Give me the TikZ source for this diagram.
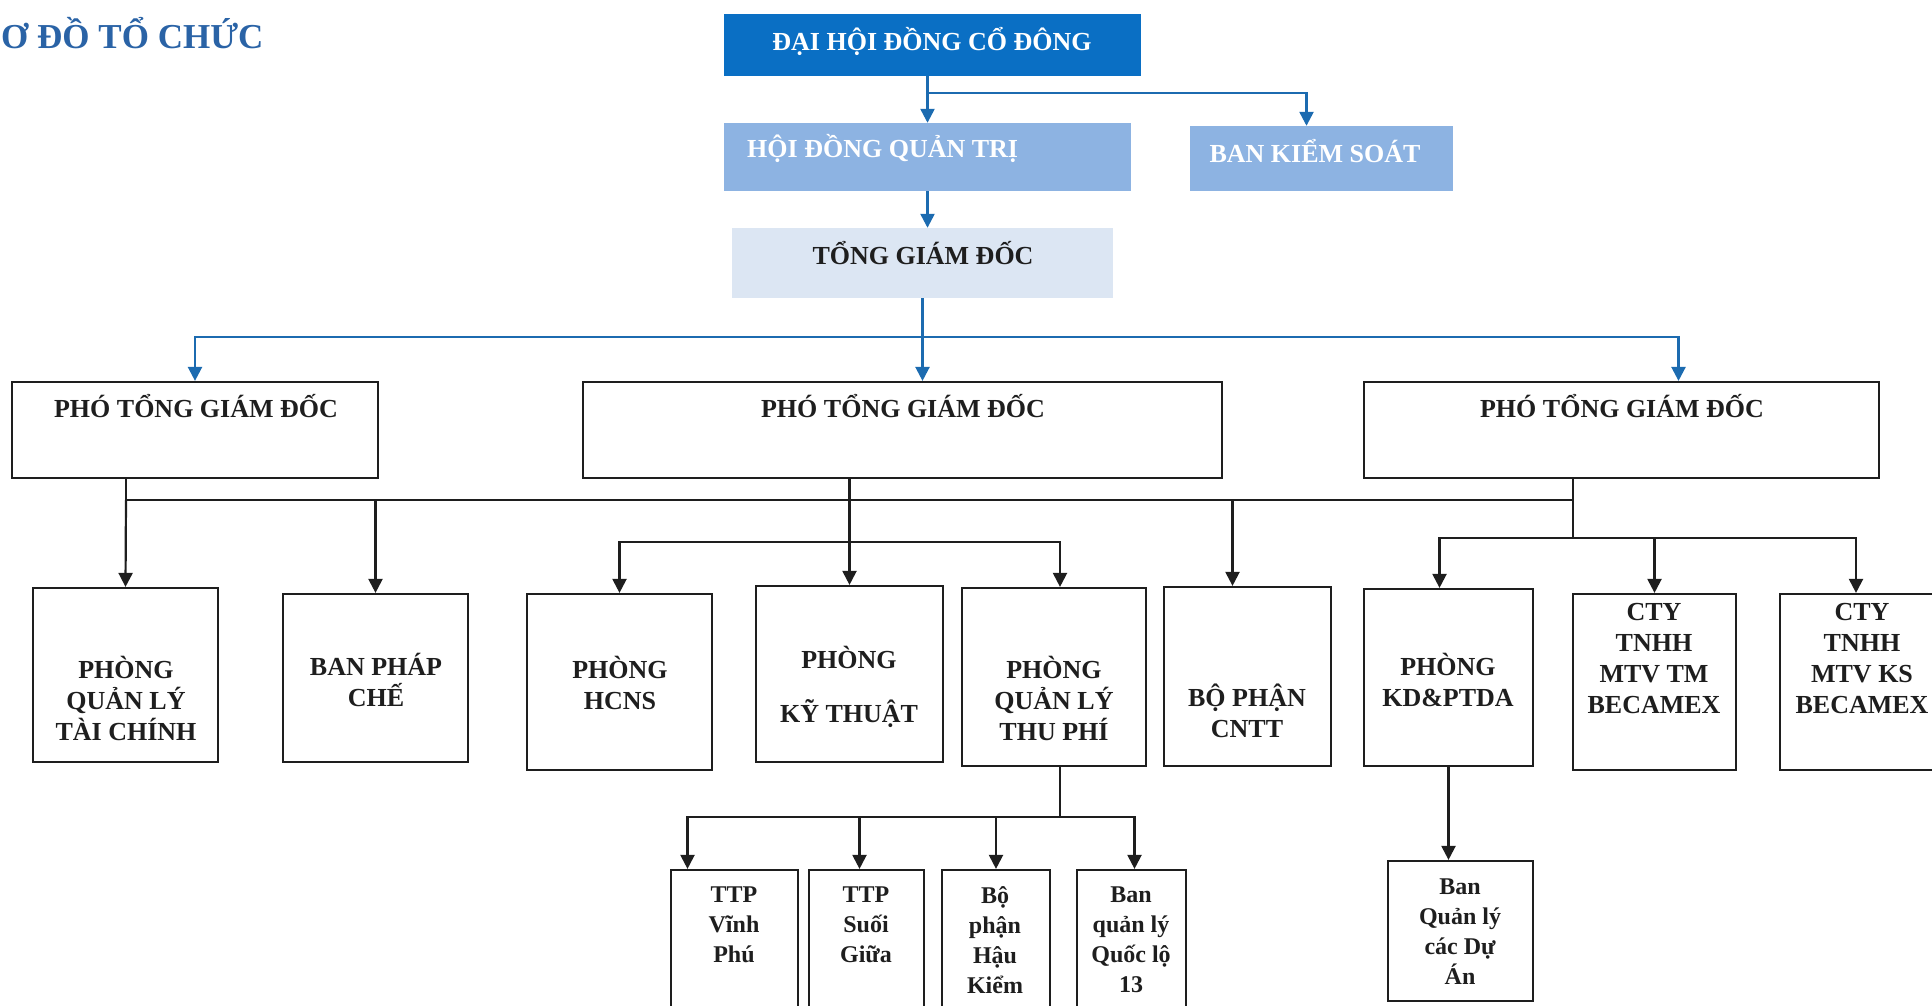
\documentclass[tikz,border=0pt]{standalone}
\usepackage{fontspec}
\setmainfont{Liberation Serif}
\usetikzlibrary{arrows.meta,calc}

\definecolor{dhblue}{RGB}{10,111,196}
\definecolor{hdblue}{RGB}{141,179,226}
\definecolor{tgblue}{RGB}{220,230,243}
\definecolor{lnblue}{RGB}{28,107,176}
\definecolor{ttblue}{RGB}{42,99,166}
\definecolor{ink}{RGB}{30,30,30}

\begin{document}
\begin{tikzpicture}[x=1pt, y=-1pt,
  orgbox/.style={draw=ink, line width=2.2pt, inner sep=0pt},
  topbox/.style={inner sep=0pt},
  lbl/.style={font=\bfseries\fontsize{26}{31}\selectfont, align=center, inner sep=0pt, text=ink},
  smlbl/.style={font=\bfseries\fontsize{24}{30}\selectfont, align=center, inner sep=0pt, text=ink},
  bline/.style={draw=lnblue, line width=2.4pt, -{Triangle[length=14pt,width=14pt]}},
  kline/.style={draw=ink, line width=2.2pt, -{Triangle[length=14pt,width=14pt]}},
  kplain/.style={draw=ink, line width=2.2pt}]

  \useasboundingbox (0,0) rectangle (1932,1006);

  % title
  \node[anchor=west, inner sep=0pt, text=ttblue, font=\bfseries\fontsize{35}{40}\selectfont] (title) at (1,33) {Ơ ĐỒ TỔ CHỨC};

  % top levels
  \node[topbox, fill=dhblue, minimum width=417, minimum height=62] (dhcd) at (932.5,45) {};
  \node[topbox, fill=hdblue, minimum width=407, minimum height=68] (hdqt) at (927.5,157) {};
  \node[topbox, fill=hdblue, minimum width=263, minimum height=65] (bks) at (1321.5,158.5) {};
  \node[topbox, fill=tgblue, minimum width=381, minimum height=70] (tgd) at (922.5,263) {};
  \node[lbl, text=white] (dhcd-t) at (932,41) {ĐẠI HỘI ĐỒNG CỔ ĐÔNG};
  \node[lbl, text=white, anchor=west] (hdqt-t) at (747,148) {HỘI ĐỒNG QUẢN TRỊ};
  \node[lbl, text=white] (bks-t) at (1315,151) {BAN KIỂM SOÁT};
  \node[lbl] (tgd-t) at (923,253) {TỔNG GIÁM ĐỐC};

  % deputies
  \node[orgbox, minimum width=366, minimum height=96] (ptgd1) at (195,430) {};
  \node[orgbox, minimum width=639, minimum height=96] (ptgd2) at (902.5,430) {};
  \node[orgbox, minimum width=515, minimum height=96] (ptgd3) at (1621.5,430) {};
  \node[lbl] (ptgd1-t) at (196,406) {PHÓ TỔNG GIÁM ĐỐC};
  \node[lbl] (ptgd2-t) at (903,406) {PHÓ TỔNG GIÁM ĐỐC};
  \node[lbl] (ptgd3-t) at (1622,406) {PHÓ TỔNG GIÁM ĐỐC};

  % departments
  \node[orgbox, minimum width=185, minimum height=174] (pqltc) at (125.5,675) {};
  \node[orgbox, minimum width=185, minimum height=168] (bpc) at (375.5,678) {};
  \node[orgbox, minimum width=185, minimum height=176] (hcns) at (619.5,682) {};
  \node[orgbox, minimum width=187, minimum height=176] (kt) at (849.5,674) {};
  \node[orgbox, minimum width=184, minimum height=178] (qltp) at (1054,677) {};
  \node[orgbox, minimum width=167, minimum height=179] (cntt) at (1247.5,676.5) {};
  \node[orgbox, minimum width=169, minimum height=177] (kd) at (1448.5,677.5) {};
  \node[orgbox, minimum width=163, minimum height=176] (tm) at (1654.5,682) {};
  \node[orgbox, minimum width=164, minimum height=176] (ks) at (1862,682) {};
  \node[lbl] (pqltc-t) at (126,698) {PHÒNG\\QUẢN LÝ\\TÀI CHÍNH};
  \node[lbl] (bpc-t) at (376,680) {BAN PHÁP\\CHẾ};
  \node[lbl] (hcns-t) at (620,683) {PHÒNG\\HCNS};
  \node[lbl] (kt-t) at (849,687) {PHÒNG\\[23pt]KỸ THUẬT};
  \node[lbl] (qltp-t) at (1054,698) {PHÒNG\\QUẢN LÝ\\THU PHÍ};
  \node[lbl] (cntt-t) at (1247,711) {BỘ PHẬN\\CNTT};
  \node[lbl] (kd-t) at (1448,680) {PHÒNG\\KD\&PTDA};
  \node[lbl] (tm-t) at (1654,659) {CTY\\TNHH\\MTV TM\\BECAMEX};
  \node[lbl] (ks-t) at (1862,659) {CTY\\TNHH\\MTV KS\\BECAMEX};

  % units
  \node[orgbox, minimum width=127, minimum height=150] (vp) at (734.5,945) {};
  \node[orgbox, minimum width=115, minimum height=150] (sg) at (866.5,945) {};
  \node[orgbox, minimum width=108, minimum height=150] (hk) at (996,945) {};
  \node[orgbox, minimum width=109, minimum height=150] (ql) at (1131.5,945) {};
  \node[orgbox, minimum width=145, minimum height=140] (bqlda) at (1460.5,931) {};
  \node[smlbl] (vp-t) at (734,925) {TTP\\Vĩnh\\Phú};
  \node[smlbl] (sg-t) at (866,925) {TTP\\Suối\\Giữa};
  \node[smlbl] (hk-t) at (995,940) {Bộ\\phận\\Hậu\\Kiểm};
  \node[smlbl] (ql-t) at (1131,940) {Ban\\quản lý\\Quốc lộ\\13};
  \node[smlbl] (bqlda-t) at (1460,932) {Ban\\Quản lý\\các Dự\\Án};

  % blue connectors
  \coordinate (split1) at (927.5,93);
  \coordinate (split2) at (923,337);
  \draw[bline] (hdqt.north |- dhcd.south) -- (hdqt.north);
  \draw[bline] (split1) -| ($(bks.north)+(-15,0)$);
  \draw[bline] (hdqt.south) -- (hdqt.south |- tgd.north);
  \draw[bline] (tgd.south) -- (tgd.south |- ptgd2.north);
  \draw[bline] (split2) -| (ptgd1.north);
  \draw[bline] (split2) -| ($(ptgd3.north)+(57,0)$);

  % black connectors
  \coordinate (busA) at (126,500);
  \coordinate (busB) at (1573,500);
  \coordinate (midbus) at (849,542);
  \coordinate (rbus) at (1573,538);
  \coordinate (qbus) at (1060,817);
  \draw[kplain] (busA |- ptgd1.south) -- (busA) -- (busB) -- (busB |- ptgd3.south);
  \draw[kline] (busA) -- (pqltc.north);
  \draw[kline] (bpc.north |- busA) -- (bpc.north);
  \draw[kline] ($(cntt.north |- busA)+(-15,0)$) -- ($(cntt.north)+(-15,0)$);
  \draw[kline] (kt.north |- ptgd2.south) -- (kt.north);
  \draw[kline] (midbus) -| (hcns.north);
  \draw[kline] (midbus) -| ($(qltp.north)+(6,0)$);
  \draw[kplain] (busB) -- (rbus);
  \draw[kline] (rbus) -| ($(kd.north)+(-9,0)$);
  \draw[kline] (rbus) -| (tm.north);
  \draw[kline] (rbus) -| ($(ks.north)+(-6,0)$);
  \draw[kplain] ($(qltp.south)+(6,0)$) -- (qbus);
  \draw[kline] (qbus) -| ($(vp.north)+(-47,0)$);
  \draw[kline] (qbus) -| ($(sg.north)+(-7,0)$);
  \draw[kline] (qbus) -| (hk.north);
  \draw[kline] (qbus) -| ($(ql.north)+(3,0)$);
  \draw[kline] (kd.south) -- (kd.south |- bqlda.north);
\end{tikzpicture}
\end{document}
